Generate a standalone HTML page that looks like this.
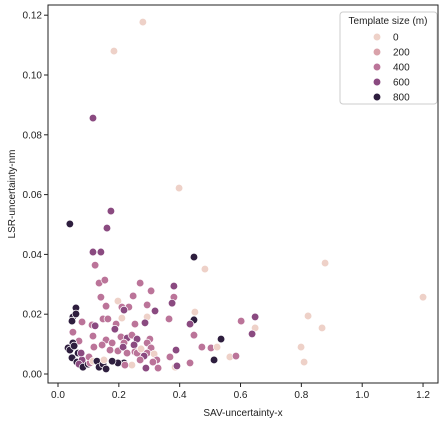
<!DOCTYPE html>
<html><head><meta charset="utf-8">
<style>
html,body{margin:0;padding:0;background:#fff;}
svg{display:block;font-family:"Liberation Sans","DejaVu Sans",sans-serif;}
</style></head>
<body>
<svg id="chart" width="448" height="425" viewBox="0 0 448 425"></svg>
<script>
const xs = [0.279,0.184,0.115,0.398,0.039,0.174,0.161,0.447,0.483,0.115,0.141,0.122,0.135,0.154,0.270,0.306,0.381,0.381,0.141,0.059,0.158,0.197,0.210,0.233,0.217,0.247,0.293,0.319,0.365,0.375,0.450,0.049,0.046,0.079,0.148,0.164,0.191,0.112,0.122,0.210,0.293,0.253,0.286,0.447,0.434,0.447,0.049,0.069,0.115,0.187,0.158,0.207,0.227,0.243,0.217,0.260,0.302,0.293,0.306,0.250,0.178,0.145,0.118,0.171,0.197,0.214,0.227,0.253,0.260,0.273,0.293,0.316,0.283,0.325,0.312,0.270,0.243,0.217,0.197,0.178,0.220,0.289,0.329,0.385,0.391,0.434,0.513,0.368,0.388,0.473,0.503,0.523,0.536,0.033,0.039,0.049,0.053,0.046,0.066,0.062,0.079,0.069,0.082,0.099,0.105,0.076,0.102,0.115,0.128,0.135,0.148,0.158,0.151,0.059,0.878,1.200,0.602,0.648,0.648,0.638,0.565,0.585,0.822,0.868,0.799,0.809];
const ys = [0.1177,0.108,0.0856,0.0622,0.0502,0.0545,0.0488,0.0391,0.0351,0.0408,0.0408,0.0364,0.0304,0.0314,0.0304,0.0278,0.0294,0.0257,0.0257,0.0221,0.0227,0.0244,0.0224,0.0224,0.0214,0.0261,0.0231,0.0211,0.0184,0.0237,0.0207,0.0191,0.0177,0.0174,0.0184,0.0184,0.0167,0.0164,0.0161,0.0187,0.0191,0.0167,0.0171,0.0181,0.0167,0.0130,0.0140,0.0110,0.0127,0.0150,0.0114,0.0124,0.0120,0.0130,0.0104,0.0117,0.0117,0.0104,0.0087,0.0097,0.0104,0.0097,0.0090,0.0080,0.0077,0.0090,0.0070,0.0074,0.0070,0.0084,0.0070,0.0067,0.0060,0.0047,0.0040,0.0047,0.0030,0.0037,0.0037,0.0043,0.0030,0.0020,0.0020,0.0023,0.0027,0.0037,0.0047,0.0057,0.0080,0.0090,0.0087,0.0090,0.0117,0.0087,0.0080,0.0104,0.0094,0.0054,0.0070,0.0040,0.0047,0.0033,0.0023,0.0033,0.0037,0.0070,0.0057,0.0043,0.0043,0.0023,0.0033,0.0017,0.0047,0.0201,0.0371,0.0257,0.0177,0.0191,0.0154,0.0134,0.0057,0.0060,0.0194,0.0154,0.0090,0.0040];
const sizes = [0,0,600,0,800,600,600,800,0,600,600,400,400,400,400,400,600,400,400,800,400,0,400,400,600,400,400,600,400,600,0,800,800,400,400,400,400,400,600,0,0,400,600,800,600,400,400,400,400,600,400,400,600,400,400,600,400,400,400,600,400,400,400,400,400,600,400,400,400,0,400,0,600,400,400,400,0,800,800,800,400,600,400,0,600,400,800,400,600,400,400,0,800,800,800,800,800,800,800,800,600,600,800,800,400,600,400,0,800,800,800,800,0,800,0,0,400,600,0,600,0,400,0,0,0,0];
const xTicks = [0.0,0.2,0.4,0.6,0.8,1.0,1.2];
const yTicks = [0.00,0.02,0.04,0.06,0.08,0.10,0.12];
const legendLevels = [0,200,400,600,800];

const NS = "http://www.w3.org/2000/svg";
const svg = document.getElementById("chart");
const L=48,T=5,R=438,B=383;
const xScale = v => 58 + v*304.2;
const yScale = v => 374 - v*2990;
const colorStops = ["#eed1c8","#d9a2aa","#bb7499","#8a4a80","#2e1e3e"];
function color(s){ return colorStops[Math.max(0,Math.min(4,Math.round(s/200)))]; }
function mk(tag, attrs){ const e=document.createElementNS(NS,tag); for(const k in attrs) e.setAttribute(k,attrs[k]); svg.appendChild(e); return e; }

const frame = mk("rect",{x:L,y:T,width:R-L,height:B-T,fill:"none",stroke:"#222","stroke-width":1});



xTicks.forEach(t=>{
  const x=xScale(t);
  const tk=mk("line",{x1:x,x2:x,y1:B,y2:B+4,stroke:"#222"});
  
  
  const tx=mk("text",{x:x,y:B+15,"font-size":10,"text-anchor":"middle",fill:"#222"});
  tx.textContent=t.toFixed(1);
  
  
});
yTicks.forEach(t=>{
  const y=yScale(t);
  const tk=mk("line",{x1:L-4,x2:L,y1:y,y2:y,stroke:"#222"});
  
  
  const tx=mk("text",{x:L-6,y:y+3.5,"font-size":10,"text-anchor":"end",fill:"#222"});
  tx.textContent=t.toFixed(2);
  
  
});

const xl=mk("text",{x:(L+R)/2,y:416,"font-size":10,"text-anchor":"middle",fill:"#222"});
xl.textContent="SAV-uncertainty-x";


const yl=mk("text",{x:0,y:0,"font-size":10,"text-anchor":"middle",fill:"#222",transform:"translate(15,"+((T+B)/2)+") rotate(-90)"});
yl.textContent="LSR-uncertainty-nm";



xs.forEach((v,i)=>{
  const c=mk("circle",{cx:xScale(v),cy:yScale(ys[i]),r:3.8,fill:color(sizes[i]),stroke:"#fff","stroke-width":0.7});
  
  
});

const lb=mk("rect",{x:340,y:12,width:97,height:92,rx:3,fill:"#fff","fill-opacity":0.8,stroke:"#ccc"});


const lt=mk("text",{x:388,y:24,"font-size":10,"text-anchor":"middle",fill:"#222"});
lt.textContent="Template size (m)";


legendLevels.forEach((lv,i)=>{
  const y=37+i*15;
  const m=mk("circle",{cx:377,cy:y,r:3.8,fill:color(lv),stroke:"#fff","stroke-width":0.7});
  
  
  const t=mk("text",{x:393,y:y+3.5,"font-size":10,fill:"#222"});
  t.textContent=String(lv);
  
  
});
</script>
</body></html>
